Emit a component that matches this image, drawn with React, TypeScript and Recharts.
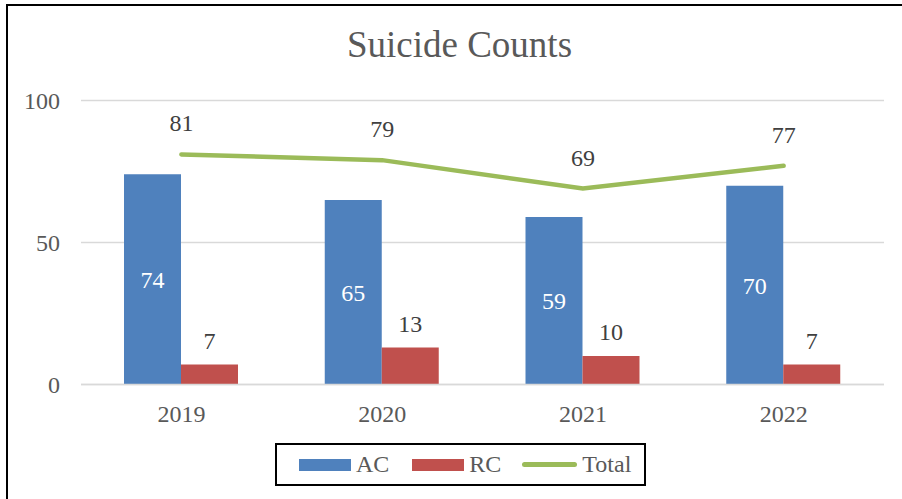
import React from 'react';
import {
  ComposedChart,
  Bar,
  Line,
  XAxis,
  YAxis,
  CartesianGrid,
  Legend,
  LabelList,
} from 'recharts';

const years = ['2019', '2020', '2021', '2022'];
const acCounts = [74, 65, 59, 70];
const rcCounts = [7, 13, 10, 7];
const totalCounts = [81, 79, 69, 77];
const yTicks = [0, 50, 100];

const FONT = '"Liberation Serif", "Times New Roman", serif';
const BLUE = '#4F81BD';
const RED = '#C0504D';
const GREEN = '#9BBB59';

const data = years.map((year, i) => ({
  year,
  AC: acCounts[i],
  RC: rcCounts[i],
  Total: totalCounts[i],
}));

function LegendBox() {
  const item = { display: 'flex', alignItems: 'center' } as const;
  const label = { fontSize: 24, color: '#595959', marginLeft: 5 };
  return (
    <div
      style={{
        boxSizing: 'border-box',
        width: 371,
        height: 43,
        border: '2px solid #000',
        display: 'flex',
        alignItems: 'center',
        paddingLeft: 22,
        fontFamily: FONT,
      }}
    >
      <div style={item}>
        <div style={{ width: 52, height: 12, background: BLUE }} />
        <span style={label}>AC</span>
      </div>
      <div style={{ ...item, marginLeft: 23 }}>
        <div style={{ width: 52, height: 12, background: RED }} />
        <span style={label}>RC</span>
      </div>
      <div style={{ ...item, marginLeft: 21 }}>
        <div style={{ width: 55, height: 5, borderRadius: 3, background: GREEN }} />
        <span style={label}>Total</span>
      </div>
    </div>
  );
}

export default function App() {
  return (
    <div
      style={{
        position: 'absolute',
        left: 0,
        top: 0,
        width: 902,
        height: 499,
        overflow: 'hidden',
        background: '#fff',
        fontFamily: FONT,
      }}
    >
      <div
        style={{
          position: 'absolute',
          left: 6,
          top: 4,
          width: 1000,
          height: 700,
          border: '2.5px solid #000',
        }}
      />
      <div
        style={{
          position: 'absolute',
          left: 259.5,
          top: 26,
          width: 400,
          textAlign: 'center',
          fontSize: 37,
          lineHeight: '37px',
          color: '#595959',
        }}
      >
        Suicide Counts
      </div>
      <div style={{ position: 'absolute', left: 0, top: 0 }}>
        <ComposedChart
          width={902}
          height={499}
          data={data}
          margin={{ top: 100.5, right: 18, left: 0, bottom: 74.5 }}
          barGap={0}
        >
          <CartesianGrid vertical={false} stroke="#D9D9D9" strokeWidth={1.5} />
          <XAxis
            dataKey="year"
            height={40}
            axisLine={{ stroke: '#D9D9D9', strokeWidth: 1.5 }}
            tickLine={false}
            tickSize={0}
            tickMargin={20}
            tick={{ fontSize: 24, fill: '#595959', fontFamily: FONT }}
          />
          <YAxis
            width={81}
            domain={[0, 100]}
            ticks={yTicks}
            axisLine={false}
            tickLine={false}
            tickSize={0}
            tickMargin={21}
            tick={{ fontSize: 24, fill: '#595959', fontFamily: FONT }}
          />
          <Legend
            verticalAlign="middle"
            layout="horizontal"
            wrapperStyle={{ left: 275, top: 443, width: 371, height: 43 }}
            content={() => <LegendBox />}
          />
          <Bar dataKey="AC" fill={BLUE} barSize={57} isAnimationActive={false}>
            <LabelList
              dataKey="AC"
              position="center"
              fill="#fff"
              style={{ fontSize: 24, fontFamily: FONT }}
            />
          </Bar>
          <Bar dataKey="RC" fill={RED} barSize={57} isAnimationActive={false}>
            <LabelList
              dataKey="RC"
              position="top"
              offset={16}
              fill="#404040"
              style={{ fontSize: 24, fontFamily: FONT }}
            />
          </Bar>
          <Line
            dataKey="Total"
            type="linear"
            stroke={GREEN}
            strokeWidth={4.5}
            strokeLinecap="round"
            dot={false}
            activeDot={false}
            isAnimationActive={false}
          >
            <LabelList
              dataKey="Total"
              position="top"
              offset={23}
              fill="#404040"
              style={{ fontSize: 24, fontFamily: FONT }}
            />
          </Line>
        </ComposedChart>
      </div>
    </div>
  );
}
